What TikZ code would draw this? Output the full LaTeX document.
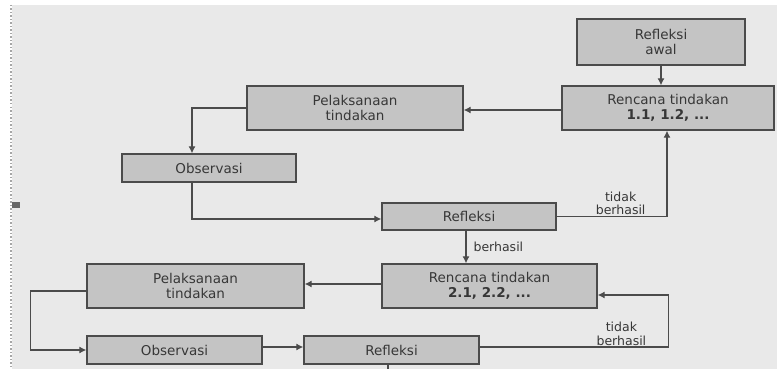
\documentclass[tikz,border=0pt]{standalone}
\usepackage{fontspec}
\setmainfont{DejaVu Sans}
\usetikzlibrary{arrows.meta,positioning,calc}
\definecolor{ptkPaper}{RGB}{233,233,233}
\definecolor{ptkBox}{RGB}{196,196,196}
\definecolor{ptkEdge}{RGB}{75,75,75}
\definecolor{ptkInk}{RGB}{55,55,55}

\begin{document}
\begin{tikzpicture}[
  x=1pt, y=-1pt,
  every node/.style={align=center, text=ptkInk, font=\fontsize{13.5}{15}\selectfont},
  stagebox/.style={draw=ptkEdge, fill=ptkBox, line width=1.3pt, inner sep=1pt},
  flow/.style={-{Latex[length=7pt,width=7pt]}, line width=1.2pt, draw=ptkEdge},
  plain/.style={line width=1.2pt, draw=ptkEdge},
  note/.style={font=\fontsize{12.5}{13.5}\selectfont, inner sep=1pt}
]
% - page -
\useasboundingbox (0,0) rectangle (777,369);
\fill[white] (0,0) rectangle (777,369);
\fill[ptkPaper] (12,5) rectangle (777,369);
\draw[gray!70, line width=1.5pt, dotted] (11,5) -- (11,369);
\fill[gray!80!black] (12,202) rectangle (20,208);

% - cycle 1 -
\node[stagebox, minimum width=168, minimum height=46] (awal) at (661,42) {Refleksi\\awal};
\node[stagebox, minimum width=212, minimum height=44] (ren1) at (668,108) {Rencana tindakan\\\textbf{1.1, 1.2, ...}};
\node[stagebox, minimum width=216, minimum height=44] (pel1) at (355,108) {Pelaksanaan\\tindakan};
\node[stagebox, minimum width=174, minimum height=28] (obs1) at (209,168) {Observasi};
\node[stagebox, minimum width=174, minimum height=27] (ref1) at (469,216.5) {Refleksi};

% - cycle 2 -
\node[stagebox, minimum width=215, minimum height=44] (ren2) at (489.5,286) {Rencana tindakan\\\textbf{2.1, 2.2, ...}};
\node[stagebox, minimum width=217, minimum height=44] (pel2) at (195.5,286) {Pelaksanaan\\tindakan};
\node[stagebox, minimum width=175, minimum height=28] (obs2) at (174.5,350) {Observasi};
\node[stagebox, minimum width=175, minimum height=28] (ref2) at (391.5,350) {Refleksi};
\coordinate (exit) at (388,372);

\draw[flow] (awal.south) -- (awal.south |- ren1.north);
\draw[flow] ([yshift=-2pt]ren1.west) -- ([yshift=-2pt]pel1.east);
\draw[flow] (pel1.west) -| ([xshift=-17pt]obs1.north);
\draw[flow] ([xshift=-17pt]obs1.south) |- ([yshift=-2.5pt]ref1.west);
\draw[flow] (ref1.east) -| node[note, above, pos=0.29] {tidak\\berhasil} ([xshift=-1pt]ren1.south);
\draw[flow] ([xshift=-3pt]ref1.south) -- node[note, right=6pt] {berhasil} ([xshift=-3pt]ref1.south |- ren2.north);

\draw[flow] ([yshift=2pt]ren2.west) -- ([yshift=2pt]pel2.east);
\draw[flow] ([yshift=-5pt]pel2.west) -- ++(-56,0) |- (obs2.west);
\draw[flow] ([yshift=3pt]obs2.east) -- ([yshift=3pt]ref2.west);
\draw[flow] ([yshift=3pt]ref2.east) -- node[note, above, pos=0.75] {tidak\\berhasil} ++(189,0) |- ([yshift=-9pt]ren2.east);
\draw[plain] (ref2.south -| exit) -- (exit);
\end{tikzpicture}
\end{document}
